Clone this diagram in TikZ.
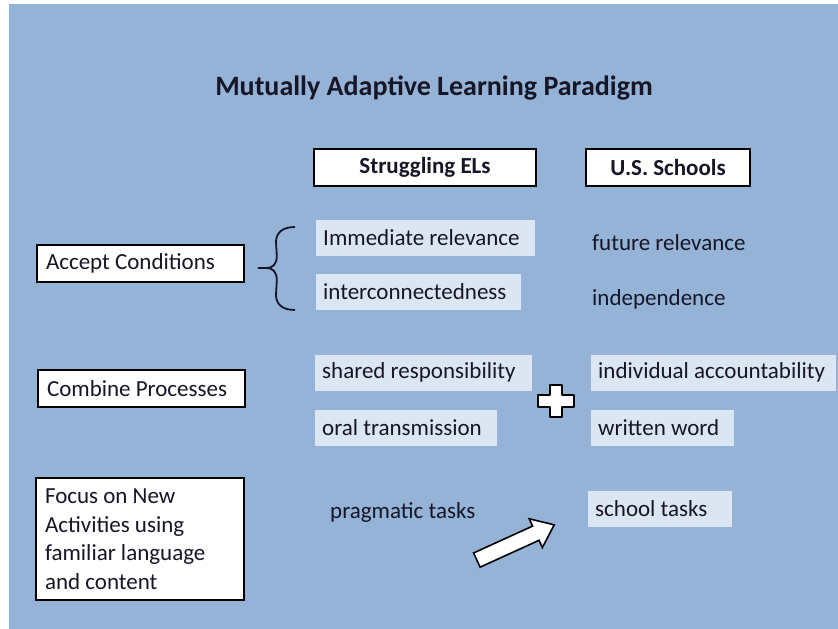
\documentclass[tikz,border=0pt]{standalone}
\usepackage{fontspec}
\setmainfont{Carlito}
\usetikzlibrary{calc,shapes.arrows}
\definecolor{slideblue}{RGB}{149,179,215}
\definecolor{cellblue}{RGB}{220,230,242}
\definecolor{inkdark}{RGB}{22,22,38}

\begin{document}
\begin{tikzpicture}[x=1pt,y=-1pt,
  rowbox/.style={draw=black, line width=1.6pt, fill=white, text=inkdark, inner xsep=9pt, inner ysep=0pt, minimum height=37pt, align=flush left, font=\fontsize{23}{28.5}\selectfont},
  headbox/.style={draw=black, line width=1.6pt, fill=white, text=inkdark, minimum height=37pt, font=\fontsize{23}{27}\selectfont\bfseries},
  cell/.style={fill=cellblue, text=inkdark, anchor=west, inner xsep=7pt, minimum height=36pt, text width=#1, align=flush left, font=\fontsize{23}{27}\selectfont},
  plain/.style={text=inkdark, anchor=west, inner sep=0pt, font=\fontsize{23}{27}\selectfont},
  plusmark/.style={draw=black, line width=1.6pt, fill=white, line join=round},
  blockarrow/.style={shape=single arrow, draw=black, line width=1.6pt, fill=white, inner sep=7pt, minimum height=85pt, single arrow head extend=8pt, single arrow tip angle=76, single arrow head indent=0pt}]

% Slide
\fill[white] (0,0) rectangle (838,629);
\fill[slideblue] (9,4) rectangle (838,629);
\useasboundingbox (0,0) rectangle (838,629);

\node[font=\fontsize{28}{32}\selectfont\bfseries, text=inkdark] (title) at (434,88) {Mutually Adaptive Learning Paradigm};

% Column heads
\node[headbox, minimum width=222pt] (els) at (425,167.5) {Struggling ELs};
\node[headbox, minimum width=164pt] (uss) at (668,167.5) {U.S. Schools};

% Row heads
\node[rowbox, text width=189pt] (accept) at (140.5,263.5) {Accept Conditions};
\node[rowbox, text width=189pt] (combine) at (141.5,388.5) {Combine Processes};
\node[rowbox, text width=190pt, minimum height=122pt] (focus) at (140,539) {Focus on New\\Activities using\\familiar language\\and content};

% Accept Conditions
\node[cell=205pt] (imm) at (316,238) {Immediate relevance};
\node[cell=191pt] (inter) at (316,292) {interconnectedness};
\node[plain] (future) at (592,243) {future relevance};
\node[plain] (indep) at (592,299) {independence};

\coordinate (btop) at ($(imm.west)+(-21,-11)$);
\coordinate (bbot) at ($(inter.west)+(-21,18)$);
\coordinate (btip) at ($(accept.east)+(13,4.5)$);
\draw[inkdark, line width=1.8pt]
  (btop) .. controls +(-14,0) and +(0,-8) .. ($(btop)+(-19,15)$)
  -- ($(btip)+(19,-12)$) .. controls +(0,8) and +(6,0) .. ($(btip)+(9,0)$) -- (btip);
\draw[inkdark, line width=1.8pt]
  ($(btip)+(9,0)$) .. controls +(6,0) and +(0,-8) .. ($(btip)+(19,12)$)
  -- ($(bbot)+(-19,-15)$) .. controls +(0,8) and +(-14,0) .. (bbot);

% Combine Processes
\node[cell=203pt] (shared) at (315,372.5) {shared responsibility};
\node[cell=168pt] (oral) at (315,427.5) {oral transmission};
\node[cell=231pt] (indiv) at (591,372.5) {individual accountability};
\node[cell=129pt] (written) at (591,427.5) {written word};

\coordinate (plus) at ($($(shared.south east)!0.5!(written.north west)$)+(-6,1)$);
\draw[plusmark] ($(plus)+(-6,-16)$) -- ++(12,0) -- ++(0,10) -- ++(12,0) -- ++(0,12)
  -- ++(-12,0) -- ++(0,10) -- ++(-12,0) -- ++(0,-10) -- ++(-12,0) -- ++(0,-12)
  -- ++(12,0) -- cycle;

% Focus on New Activities
\node[plain] (prag) at (330,512) {pragmatic tasks};
\node[cell=130pt] (school) at (588,509) {school tasks};
\node[blockarrow, rotate=24.5] (shift) at (511,544.5) {};
\end{tikzpicture}
\end{document}
